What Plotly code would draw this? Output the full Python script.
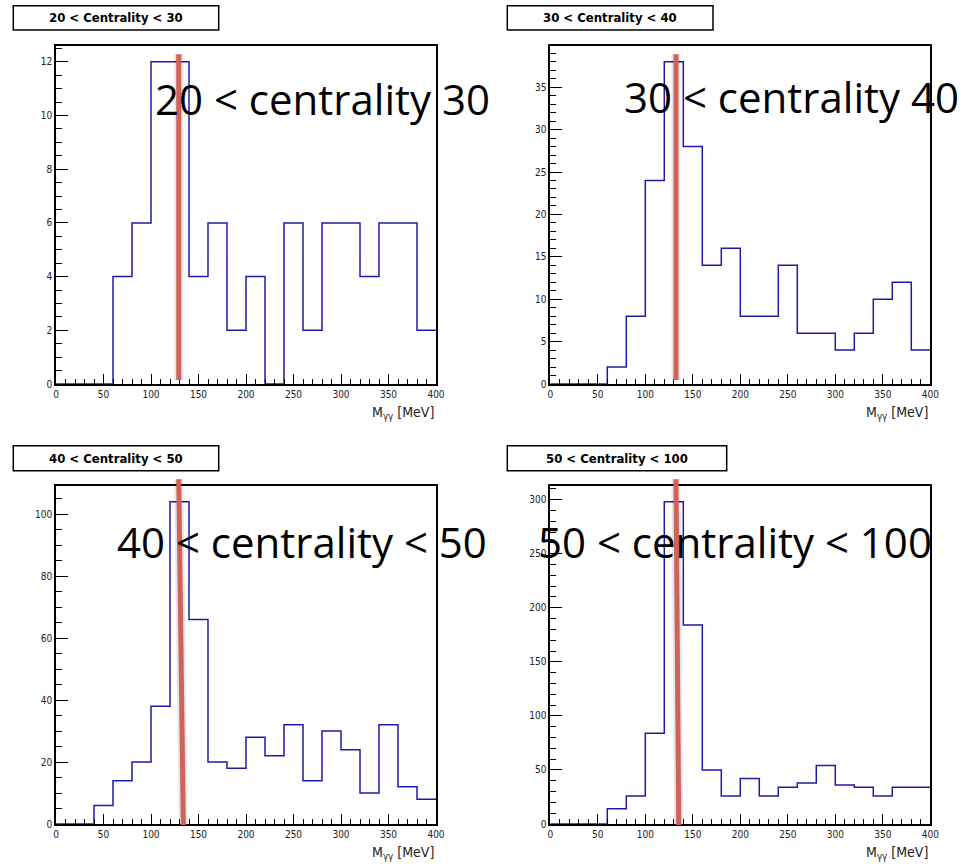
import plotly.graph_objects as go

# ---------------- data ----------------
bin_edges = list(range(0, 420, 20))  # 0..400 MeV, 20 MeV bins

counts_20_30 = [0, 0, 0, 4, 6, 12, 12, 4, 6, 2, 4, 0, 6, 2, 6, 6, 4, 6, 6, 2]
counts_30_40 = [0, 0, 0, 2, 8, 24, 38, 28, 14, 16, 8, 8, 14, 6, 6, 4, 6, 10, 12, 4]
counts_40_50 = [0, 0, 6, 14, 20, 38, 104, 66, 20, 18, 28, 22, 32, 14, 30, 24, 10, 32, 12, 8]
counts_50_100 = [0, 0, 0, 14, 26, 84, 298, 184, 50, 26, 42, 26, 34, 38, 54, 36, 34, 26, 34, 34]

box_titles = ["20 < Centrality < 30", "30 < Centrality < 40",
              "40 < Centrality < 50", "50 < Centrality < 100"]
slide_labels = ["20 < centrality 30", "30 < centrality 40",
                "40 < centrality < 50", "50 < centrality < 100"]

# red marker lines (MeV at top, MeV at bottom)
marker_top_mev = [129.2, 132.3, 129.2, 132.3]
marker_bot_mev = [129.2, 132.3, 134.0, 135.2]

y_major = [2, 5, 20, 50]
y_minor = [0.5, 1, 5, 10]

X_MAX = 400
W, H = 976, 866

# ---------------- layout geometry (pixels) ----------------
frames = [  # left, right, top, bottom
    (56, 436, 45.7, 384),
    (550.3, 930.3, 45.7, 384),
    (56, 436, 485.7, 824),
    (550.3, 930.3, 485.7, 824),
]
title_boxes = [
    (13.3, 218.7, 5.7, 30),
    (507.3, 713, 5.7, 30),
    (13.3, 218.7, 445.7, 470.7),
    (507.3, 726.7, 445.7, 470.7),
]
marker_ydom = [(0.975, 0.012), (0.975, 0.012), (1.019, -0.003), (1.019, -0.003)]
label_pos = [(154, 98.8), (623, 96.7), (116, 541.7), (537, 541.7)]


def px(x):
    return x / W


def py(y):
    return 1 - y / H


all_counts = [counts_20_30, counts_30_40, counts_40_50, counts_50_100]

fig = go.Figure()
NARROW = "Liberation Sans Narrow, DejaVu Sans Condensed, Arial Narrow, sans-serif"
shapes = []
annotations = []

for i, counts in enumerate(all_counts):
    k = i + 1
    xa = "x" if k == 1 else f"x{k}"
    ya = "y" if k == 1 else f"y{k}"
    xs = bin_edges
    ys = counts + [counts[-1]]
    fig.add_trace(go.Scatter(
        x=xs, y=ys, mode="lines", line=dict(shape="hv", color="#1c1ca8", width=1.5),
        xaxis=xa, yaxis=ya, showlegend=False, hoverinfo="skip", cliponaxis=False))

    l, r, t, b = frames[i]
    ymax = max(counts) * 1.05
    axis_common = dict(showgrid=False, zeroline=False, showline=True, mirror=True,
                       linecolor="black", linewidth=1.6, ticks="inside",
                       tickcolor="black", tickwidth=1.2, automargin=False,
                       layer="above traces",
                       tickfont=dict(family=NARROW, size=10, color="#222"))
    fig.layout[f"xaxis{'' if k == 1 else k}"] = dict(
        domain=[px(l), px(r)], range=[0, X_MAX], anchor=ya, dtick=50, tick0=0,
        ticklen=10, minor=dict(dtick=10, ticklen=5, ticks="inside", tickcolor="black", tickwidth=1.2),
        **axis_common)
    fig.layout[f"yaxis{'' if k == 1 else k}"] = dict(
        domain=[py(b), py(t)], range=[0, ymax], anchor=xa, dtick=y_major[i], tick0=0,
        ticklen=12, minor=dict(dtick=y_minor[i], ticklen=6, ticks="inside", tickcolor="black", tickwidth=1.2),
        **axis_common)

    # title box
    bl, br, bt, bb = title_boxes[i]
    shapes.append(dict(type="rect", xref="paper", yref="paper", x0=px(bl), x1=px(br),
                       y0=py(bb), y1=py(bt), line=dict(color="black", width=1.5),
                       fillcolor="white"))
    annotations.append(dict(xref="paper", yref="paper", x=px((bl + br) / 2), y=py((bt + bb) / 2),
                            text=f"<b>{box_titles[i]}</b>", showarrow=False,
                            font=dict(family=NARROW, size=13, color="black"),
                            xanchor="center", yanchor="middle"))
    # axis title
    annotations.append(dict(xref="paper", yref="paper", x=px(r), y=py(b + 29),
                            text="M<sub>γγ</sub> [MeV]", showarrow=False,
                            font=dict(family=NARROW, size=14, color="#222"),
                            xanchor="right", yanchor="middle"))
    # red marker line (with faint shadow)
    yt, yb = marker_ydom[i]
    for col, wd in (("rgba(0,0,0,0.10)", 9), ("#d0625c", 5)):
        shapes.append(dict(type="line", xref=f"{xa} domain", yref=f"{ya} domain",
                           x0=marker_top_mev[i] / X_MAX, x1=marker_bot_mev[i] / X_MAX,
                           y0=yt, y1=yb, line=dict(color=col, width=wd), layer="above"))
    # slide label
    lx, ly = label_pos[i]
    annotations.append(dict(xref="paper", yref="paper", x=px(lx), y=py(ly),
                            text=slide_labels[i], showarrow=False, borderpad=0,
                            font=dict(family="Open Sans", size=42, color="black"),
                            xanchor="left", yanchor="middle"))

fig.update_layout(width=W, height=H, margin=dict(l=0, r=0, t=0, b=0, autoexpand=False),
                  paper_bgcolor="white", plot_bgcolor="white",
                  shapes=shapes, annotations=annotations)

fig.write_html("out.html", config={"displayModeBar": False},
               post_script="document.body.style.margin='0';document.body.style.overflow='hidden';")
